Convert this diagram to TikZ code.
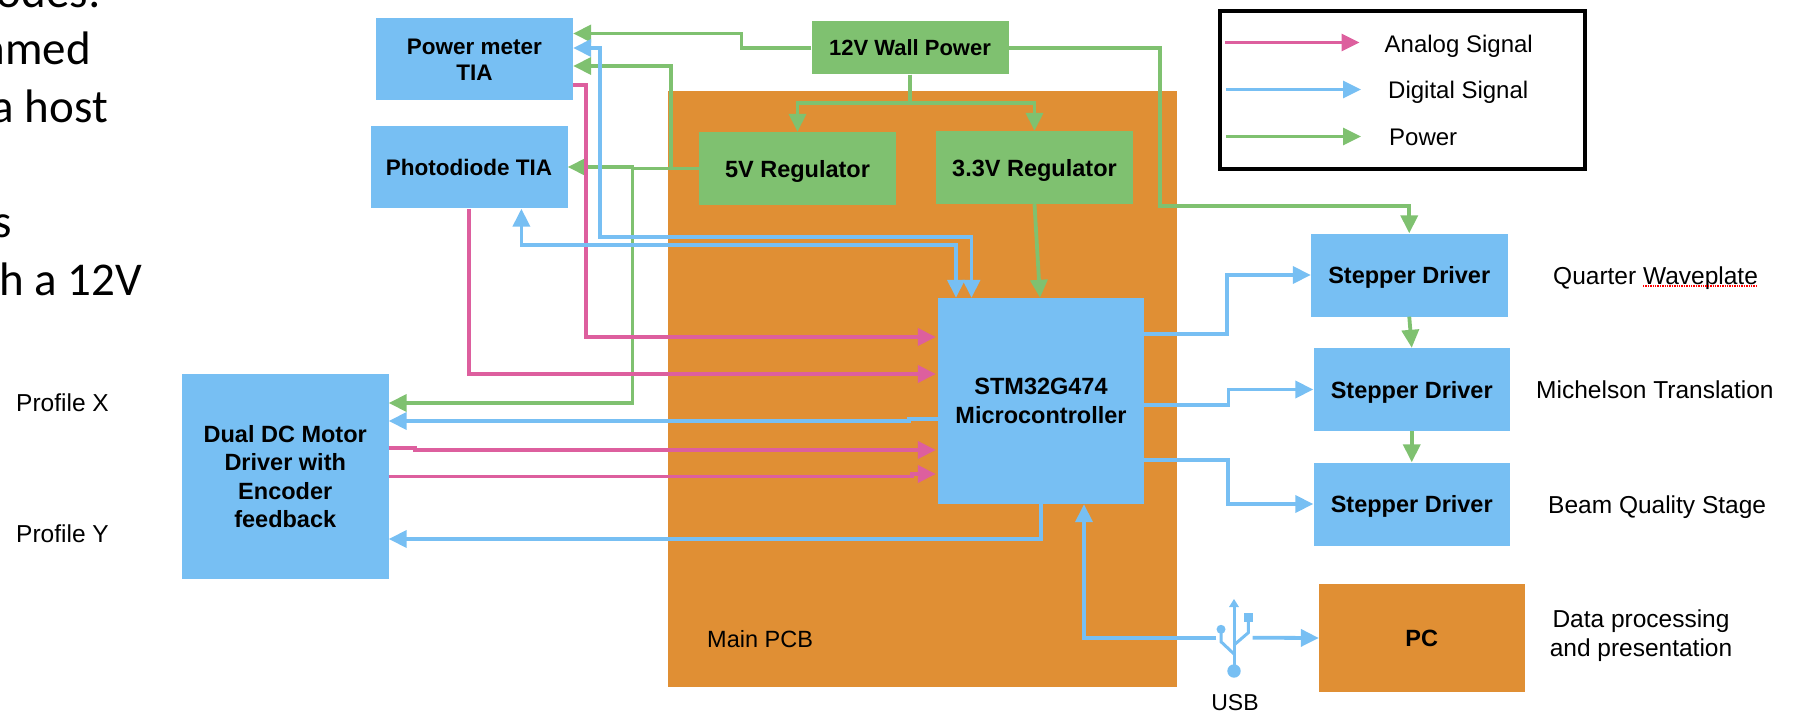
\documentclass[tikz,border=0pt]{standalone}
\usepackage{fontspec}
\setmainfont{Liberation Sans}
\newfontfamily\slidefont{Carlito}
\usetikzlibrary{arrows.meta}
\definecolor{bluebox}{HTML}{77BFF3}
\definecolor{greenbox}{HTML}{7FC170}
\definecolor{orangebox}{HTML}{E08F34}
\definecolor{pinkline}{HTML}{DD5F9E}

\begin{document}
\begin{tikzpicture}[
  x=1pt, y=-1pt,
  font=\fontsize{24.5}{28.5}\selectfont,
  blk/.style={rectangle, fill=bluebox, align=center, inner sep=0pt, text depth=0pt,
              font=\fontsize{23.5}{28.5}\selectfont\bfseries},
  pwr/.style={blk, fill=greenbox},
  pcb/.style={blk, fill=orangebox},
  lab/.style={inner sep=0pt, align=center, text depth=0pt},
  legtxt/.style={lab, anchor=west, font=\fontsize{24}{28}\selectfont},
  slide/.style={inner sep=0pt, anchor=base east, font=\fontsize{47}{47}\slidefont},
  wire/.style={-{Triangle[length=18pt,width=17pt]}, line width=3.8pt},
  ana/.style={wire, draw=pinkline, shorten >=2pt},
  dig/.style={wire, draw=bluebox},
  digb/.style={dig, {Triangle[length=18pt,width=17pt]}-{Triangle[length=18pt,width=17pt]}},
  pow/.style={wire, draw=greenbox},
  keyl/.style={line width=3pt},
  usbl/.style={draw=bluebox, line width=3pt}
]
\useasboundingbox (0,0) rectangle (1793,714);

% left over from the slide text
\node[slide] (fraga) at (101,7.3)   {odes:};
\node[slide] (fragb) at (91,65)     {nmed};
\node[slide] (fragc) at (108,122.7) {a host};
\node[slide] (fragd) at (12,237)    {s};
\node[slide] (frage) at (142,295)   {h a 12V};

% main board first, everything else lies on top
\node[pcb, minimum width=509pt, minimum height=596pt] (board) at (922.5,389) {};
\node[lab, anchor=west, font=\fontsize{23.5}{28}\selectfont] (boardlab) at (707,639) {Main PCB};

\node[blk, minimum width=197pt, minimum height=82pt, font=\fontsize{22.5}{26}\selectfont\bfseries] (pmeter) at (474.5,59.5) {Power meter\\TIA};
\node[blk, minimum width=197pt, minimum height=82pt, font=\fontsize{22.5}{26}\selectfont\bfseries] (pdiode) at (469,167.5) {Photodiode TIA};
\node[pwr, minimum width=197pt, minimum height=53pt, font=\fontsize{22}{26}\selectfont\bfseries]   (wall)   at (910,48) {12V Wall Power};
\node[pwr, minimum width=197pt, minimum height=73pt] (reg5)   at (797.5,168.5) {5V Regulator};
\node[pwr, minimum width=197pt, minimum height=73pt] (reg33)  at (1034.5,167.5) {3.3V Regulator};
\node[blk, minimum width=206pt, minimum height=206pt] (mcu)   at (1041,401) {STM32G474\\Microcontroller};
\node[blk, minimum width=206.5pt, minimum height=205pt] (motor) at (285.25,476.5) {Dual DC Motor\\Driver with\\Encoder\\feedback};

\node[blk, minimum width=196.5pt, minimum height=83pt] (step1) at (1409.25,275) {Stepper Driver};
\node[blk, minimum width=196.5pt, minimum height=83pt] (step2) at (1411.75,389.5) {Stepper Driver};
\node[blk, minimum width=196.5pt, minimum height=83pt] (step3) at (1411.75,504) {Stepper Driver};
\node[pcb, minimum width=205.5pt, minimum height=108pt] (pc)   at (1421.75,638) {PC};

\node[lab, anchor=west] (profx) at (16,402.5) {Profile X};
\node[lab, anchor=west] (profy) at (16,534)   {Profile Y};
\node[lab, anchor=west] (qwp)  at (1553,275.5) {Quarter Waveplate};
\node[lab, anchor=west] (mich) at (1536,390)   {Michelson Translation};
\node[lab, anchor=west] (beam) at (1548,504.5) {Beam Quality Stage};
\node[lab] (data) at (1641,633) {Data processing\\and presentation};

% spell-check marks under the one word
\draw[red, line width=1.4pt, densely dotted] (1643,286) -- (qwp.east |- 0,286);

% power rails
\draw[pow] (wall.west) -| (741.5,33.5) -- (pmeter.east |- 0,33.5);
\draw[pow] (reg5.west) -| (671,66) -- (pmeter.east |- 0,66);
\draw[pow] (reg5.west) -- (632.5,168.5) -- (632.5,167) -- (pdiode.east |- 0,167);
\draw[pow] (reg5.west) -| (632.5,403) -- (motor.east |- 0,403);
\draw[pow] (wall.south) -- (910,103) -| (reg5.north);
\draw[pow] (wall.south) -- (910,103) -| (reg33.north);
\draw[pow] (wall.east) -| (1160,206) -| (step1.north);
\draw[pow] (reg33.south) -- (1040,0 |- mcu.north);
\draw[pow] (step1.south) -- (step2.north);
\draw[pow] (step2.south) -- (step3.north);

% analog lines
\draw[ana] (pmeter.east |- 0,85) -| (586,337) -- (mcu.west |- 0,337);
\draw[ana] (pdiode.south) |- (mcu.west |- 0,374);
\draw[ana] (motor.east |- 0,448) -- (415,448) -- (415,450) -- (mcu.west |- 0,450);
\draw[ana] (motor.east |- 0,476.5) -- (912,476.5) -- (912,474) -- (mcu.west |- 0,474);

% digital lines
\draw[digb] (pmeter.east |- 0,48) -| (600,237) -| (971.5,0 |- mcu.north);
\draw[digb] (521.4,0 |- pdiode.south) |- (956,245) -- (956,0 |- mcu.north);
\draw[dig] (mcu.west |- 0,419) -- (909,419) -- (909,421) -- (motor.east |- 0,421);
\draw[dig] (mcu.south) |- (motor.east |- 0,539);
\draw[dig] (mcu.east |- 0,334) -| (1227,275) -- (step1.west);
\draw[dig] (mcu.east |- 0,405) -| (1228.5,389.5) -- (step2.west);
\draw[dig] (mcu.east |- 0,460) -| (1228,504) -- (step3.west);

% usb trident sits in the gap of the pc link
\node[inner sep=0pt, minimum width=36pt, minimum height=30pt] (usb) at (1234.5,637.7) {};
\draw[dig] (usb.west) -| (1084,0 |- mcu.south);
\draw[dig] (usb.east) -- (pc.west);
\draw[usbl] (1234,604) -- (1234,668);
\fill[bluebox] (1234,599) -- (1239,607) -- (1229,607) -- cycle;
\fill[bluebox] (1234,671) circle (6.7);
\fill[bluebox] (1221,629.3) circle (4.5);
\fill[bluebox] (1244,613.3) rectangle (1252.7,622);
\draw[usbl] (1221,630) -- (1221,641.7) -- (1234,654);
\draw[usbl] (1248.3,620) -- (1248.3,632.7) -- (1234,645);
\node[lab, font=\fontsize{23}{26}\selectfont] (usblab) at (1235,702) {USB};

% key
\node[draw=black, line width=4pt, minimum width=365pt, minimum height=158pt] (legend) at (1402,90) {};
\node[legtxt] (keya) at (1384.5,43.7) {Analog Signal};
\node[legtxt] (keyd) at (1388,90)     {Digital Signal};
\node[legtxt] (keyp) at (1389,137)    {Power};
\coordinate (anas) at (1225,42.5);
\coordinate (anae) at (1359.6,42.5);
\coordinate (digs) at (1226,89.5);
\coordinate (dige) at (1361,89.5);
\coordinate (pows) at (1226,136.5);
\coordinate (powe) at (1361,136.5);
\draw[ana, keyl, shorten >=0pt] (anas) -- (anae);
\draw[dig, keyl] (digs) -- (dige);
\draw[pow, keyl] (pows) -- (powe);
\end{tikzpicture}
\end{document}
